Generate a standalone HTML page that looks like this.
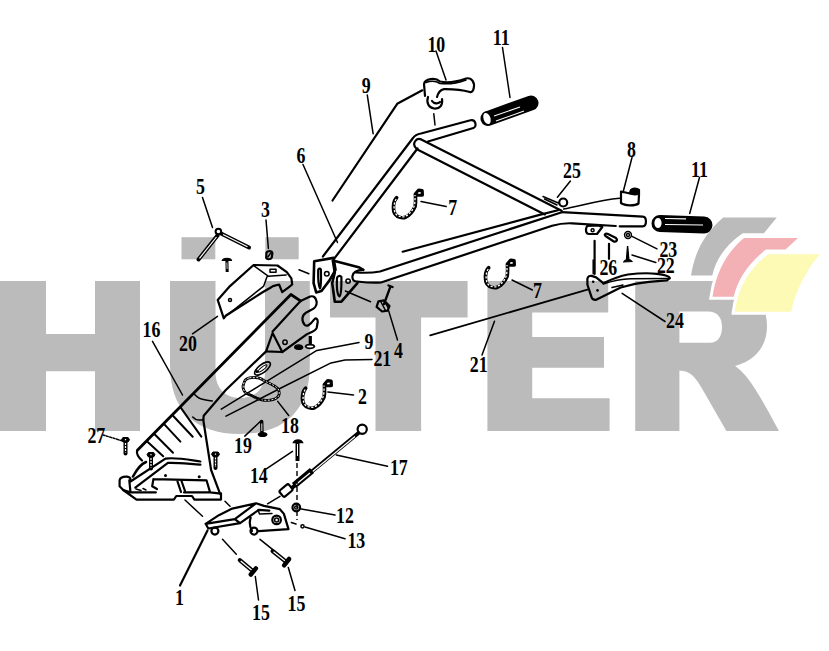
<!DOCTYPE html>
<html><head><meta charset="utf-8">
<style>
html,body{margin:0;padding:0;background:#fff;width:829px;height:651px;overflow:hidden}
svg{display:block}
.t{font-family:"Liberation Serif",serif;font-size:23.5px;font-weight:bold;fill:#000}
.k{fill:none;stroke:#000;stroke-width:2.2;stroke-linecap:round;stroke-linejoin:round}
.th{fill:none;stroke:#000;stroke-width:1.5;stroke-linecap:round;stroke-linejoin:round}
.tk{fill:none;stroke:#000;stroke-width:2.8;stroke-linecap:round;stroke-linejoin:round}
.ds{fill:none;stroke:#000;stroke-width:1.4;stroke-dasharray:5 3}
</style></head>
<body>
<svg width="829" height="651" viewBox="0 0 829 651">
<!-- watermark -->
<g fill="#bbbbbb">
  <path d="M0,281H46V334H95V281H140V431H95V371.3H46V431H0Z"/>
  <rect x="181.5" y="237.2" width="33.8" height="22.1"/>
  <rect x="265.3" y="237.2" width="33.4" height="22.1"/>
  <path d="M170,281V365C170,410 195,434 240,434C285,434 309.8,410 309.8,365V281H265V372C265,390 254,398 240.3,398C227,398 215.5,390 215.5,372V281Z"/>
  <path d="M330,281H467.6V317.5H421.1V431H375.5V317.5H330Z"/>
  <path d="M487.4,281H608.2V312.5H532.2V337H604V367.8H532.2V398.2H609.6V431H487.4Z"/>
  <path d="M635.2,281H712C745,281 767,297 767,326C767,346 756,360 735,366C748,375 757,390 779,431H726.4L704,392C695,376 690,371 679.4,370.6V431H635.2ZM679.4,311.5V342.8H710C718,342.8 722,336 722,327C722,318 718,311.5 708,311.5Z" fill-rule="evenodd"/>
</g>
<!-- logo swooshes -->
<g stroke="#fff" stroke-width="6" stroke-linejoin="miter" paint-order="stroke">
  <path fill="#bbbbbb" d="M723.3,217.5H776.8L763.9,233.2H742.7C727,244 716,258 712.3,275.6H691C695,250 706,232 723.3,217.5Z"/>
  <path fill="#f4b1b5" d="M744,238H798L785.5,249.6H766C750,262 738,278 733.7,296.8H712.5C716,272 727,252 744,238Z"/>
  <path fill="#fcfab5" d="M768.2,254.2H820.1C806,270 796,290 791.2,311.7H734.8C738,287 750,268 768.2,254.2Z"/>
</g>
<!-- drawing -->
<g id="draw">
<!-- handlebar upper tube -->
<path class="k" d="M332.5,200.5L397.2,103.8L422.3,90.3"/>
<path class="k" d="M322.9,256.5L413,138C415,135 418,134 421,133.5L470.5,120.2C476,119 477,127 473.4,128L428,141.5"/>
<path class="k" d="M334.8,257.9L417.5,148.5"/>
<!-- crossbar -->
<path class="k" d="M421.7,139.7L561.6,210.8M416.9,149.3L544.8,214.4M421.7,139.7C416,137 411,144 416.9,149.3"/>
<!-- leaders top -->
<path class="th" d="M367.3,95.1L373.1,133.7M436,51L446,80M502.5,47.5L510,97.5M433.8,113.8L435,125M303,164.5L337.5,242.5"/>
<!-- lever 10 -->
<path class="k" d="M424,84C425,79 435,77 440,81.5C446,83 456,82 466,78.5C472,77 475,83 473.7,88.2C473,92 471,92.5 469.8,92C463,90 452,89 444,89.1C440,90 438,93 437,97M424,84L425,95.9"/>
<path class="th" d="M426,82.5C430,81 436,81 440,83.5C448,84.5 458,83 466,80"/>
<path class="k" d="M428,97C426,103 429,108 434,108.5C440,109 443,105 442,99M432,101C434,104 438,104 440,102"/>
<!-- grip 11 upper -->
<path d="M488,118.5L531,103" stroke="#000" stroke-width="15" stroke-linecap="round"/>
<ellipse cx="487" cy="118.5" rx="4.2" ry="6.5" fill="#fff" stroke="#000" stroke-width="1.5" transform="rotate(-20 487 118.5)"/>
<path d="M494,116L520,107M496,121L524,111" stroke="#fff" stroke-width="1.1"/>
<!-- joint brackets -->
<path class="k" style="stroke-width:2.6" d="M314.2,261.2L333.5,257.9L335.5,269.8L329.5,280.4L321.5,291L316.2,292.4L313.6,283.1Z"/>
<path class="k" d="M318.2,270C318,279 318.5,286 320,288.4C321.5,286 321,276 320.9,269.5C320,268 318.5,268.5 318.2,270"/>
<circle class="th" cx="326.8" cy="273.8" r="2.3"/>
<path class="k" style="stroke-width:2.6" d="M332.8,260.5L358.7,267.2L363.3,269.8M357.4,283.1L341.4,301.7L334.8,301.7L332.2,283.1L334.8,272.5L332.8,260.5"/>
<path class="k" d="M337,278C336.5,288 337.5,295 339.5,296.3C341.5,295 341.5,285 341.4,277C340,275 337.5,276 337,278"/>
<circle class="th" cx="348.1" cy="281.1" r="2.2"/>
<path class="th" d="M299,269.8L308.9,273.8M345.4,291L370.6,301.7"/>
<!-- lower tube from joint -->
<path class="k" d="M363.3,269.8C358,270 353,272 352.5,276C352,280 354,281.5 357,281.5C366,282.5 374,283 381,282.5L552.1,225.7C558,224 566,223 572.4,223.3L615.8,226M619.7,226.3L642.8,226.3C647,226 647,217 642.8,216.7L561.8,212.2"/>
<path class="k" d="M356,272.5C365,273 372,273 380,271.5L561.8,212.2"/>
<path class="k" d="M402.7,251.7L540.5,214.6L557.9,210.3"/>
<path class="th" d="M563.7,209C580,206 600,200 619.7,198.3"/>
<!-- part 8 -->
<path class="k" d="M621,191.5L621,203C625,206 635,206 638.5,203.5L639,195C637,192 633,193 630,193.5L621,191.5M630,193.5L631,190C633,188 637,188.5 639,190L639,195"/><path d="M629,194L630,190C632,188 637,188 639,190.5L639,194.5C636,196 632,195.5 629,194Z" fill="#000"/>
<path class="th" d="M632,157.5L623,192.5"/>
<!-- part 25 -->
<circle class="k" cx="563.2" cy="202.5" r="4"/><path class="th" d="M543,196.5L559.5,203.5M544.5,199L557,205"/>
<path class="th" d="M570.4,181L557.4,197.2"/>
<!-- grip 11 right -->
<path d="M660,223.5L704,225" stroke="#000" stroke-width="17" stroke-linecap="round"/>
<ellipse cx="658" cy="223" rx="4.5" ry="6" fill="#fff" stroke="#000" stroke-width="1.8"/>
<path d="M665,218.5L686,218.8M665,224.5L703,225" stroke="#fff" stroke-width="1.2"/>
<path class="th" d="M699.5,177.5L689.7,213.5"/>
<!-- part 26, 23, 22 -->
<path class="k" d="M587,226C585,230 586,234 589,234L597,234L602.3,227L598,225.4Z"/>
<circle class="th" cx="592.6" cy="230.2" r="1.5"/>
<path class="k" d="M605.5,236L613,241C616,243 618,240 616,238L608,234C605,233 604,235 605.5,236Z"/>
<path class="k" d="M594.6,240.8L594.6,274M609,243.8L609,258.8"/>
<circle class="th" cx="628" cy="235" r="3.4"/>
<circle class="th" cx="628" cy="235" r="1.5"/>
<path class="th" d="M632,236.3L657,248.8"/>
<path d="M627.6,246L626.5,259.5L628.8,259.5Z" fill="#000" stroke="#000" stroke-width="1.4"/><path d="M623.8,261.8C625,259 630.5,259 632,261.5Z" fill="#000" stroke="#000" stroke-width="1.2"/>
<path class="th" d="M632,255L655.8,262.5"/>
<!-- clip 7 upper -->
<g transform="translate(385,185)"><path fill="none" stroke="#000" stroke-width="3.6" stroke-linecap="round" stroke-linejoin="round" d="M11.7,12.6C8,16 7.5,25 10,29C12.5,32.5 17.5,33.5 21,32C25,30 28.5,25 30.1,21.5C31,17 30.5,12.5 30.4,9.2L33.8,5.3L37,5.8L37.2,10L31,10"/><path fill="none" stroke="#fff" stroke-width="1.3" stroke-dasharray="2.2 1.6" d="M11.2,14C8.5,18 8.5,25 10.5,28.5C13,32 18,32.5 21,31C25,29 28.5,24 29.5,20C30.2,16 30,12 30,10"/><path fill="#fff" d="M33.3,7.2L35.6,7.2L35.6,8.8L33,8.8Z"/></g>
<path class="th" d="M421,201.4L446.2,206.5"/>
<!-- clip 7 lower -->
<g transform="translate(477,255)"><path fill="none" stroke="#000" stroke-width="3.6" stroke-linecap="round" stroke-linejoin="round" d="M11.7,12.6C8,16 7.5,25 10,29C12.5,32.5 17.5,33.5 21,32C25,30 28.5,25 30.1,21.5C31,17 30.5,12.5 30.4,9.2L33.8,5.3L37,5.8L37.2,10L31,10"/><path fill="none" stroke="#fff" stroke-width="1.3" stroke-dasharray="2.2 1.6" d="M11.2,14C8.5,18 8.5,25 10.5,28.5C13,32 18,32.5 21,31C25,29 28.5,24 29.5,20C30.2,16 30,12 30,10"/><path fill="#fff" d="M33.3,7.2L35.6,7.2L35.6,8.8L33,8.8Z"/></g>
<path class="th" d="M512,280L532.4,290"/>
<!-- part 5 pin -->

<path d="M221,233.5L249,247.5" stroke="#000" stroke-width="4" stroke-linecap="round"/><path d="M223,234.5L247.5,246.8" stroke="#fff" stroke-width="1.2"/>
<path d="M217.5,235.5L198.5,259.5" stroke="#000" stroke-width="4" stroke-linecap="round"/><path d="M216.5,237L199.5,258.3" stroke="#fff" stroke-width="1.2"/>
<path class="th" d="M202.5,197.5L212.5,227.5"/><circle cx="218.4" cy="231.5" r="2.8" fill="#fff" stroke="#000" stroke-width="2"/>
<!-- screw T -->
<path d="M222.3,260.5C223,257.5 231,257.5 231.5,260.5Z" fill="#000" stroke="#000" stroke-width="1.2"/><path d="M226.9,261L227.2,272" stroke="#000" stroke-width="3"/><path d="M226.9,262.5L227.1,269" stroke="#fff" stroke-width="0.8"/>
<!-- nut 3 -->
<path class="k" style="stroke-width:2.2" d="M266.5,252.5C268,250.5 272,250.8 272.4,253L271.8,257.5C270.5,259.8 267,259.8 266.2,257.8Z"/><path class="th" d="M267.8,257L270.8,253"/>
<path class="th" d="M266,220L268.4,248.4"/>
<!-- bracket 20 -->
<path class="k" d="M253.6,265L277.5,265.5L286.8,272.2L291.4,278.4L292.2,284.5L288.3,287.6L282.2,292.2L279.1,284.5L273,286.1L270,288L263,292L226,315.5L223.8,318.3L217.7,299.9L230,286.1Z"/>
<path class="th" d="M254,265.8L268.2,276.2L286.1,274.9M267,276.8L263.7,286.1L226.9,315.3"/>
<path class="th" d="M270,269.2L276,269.2L276,272.2L270,272.2Z"/>
<circle class="th" cx="230" cy="299.9" r="1.5"/>
<path class="th" d="M192.5,333.8L217.5,316.3"/>
<!-- tube 16 -->
<path class="tk" d="M137.4,450.2L290.9,294.5L300.5,300.9"/>
<path class="k" d="M300.5,300.9L272.6,331.5M272.6,333L266.1,351.4L282.3,352L272.6,333"/>
<path class="k" d="M300.5,300.9L310.2,296.6C313,295.5 316,297 316.7,302C317,306 314,309 311,310L305.9,312.7C302,315 301,321 304.8,325C307,327 310,325 314.5,319.2C316,317.5 318,319 317.7,322L316.7,327.8C316,331 312,332 307,334.2L282.3,352"/>
<circle class="th" cx="285" cy="342.3" r="2.2"/>
<path d="M294.5,347.5C295,344 302,344 302.8,347.5C302,350 295,350 294.5,347.5Z" fill="#000" stroke="#000" stroke-width="1.2"/><path d="M310.3,336L310.3,345" stroke="#000" stroke-width="3.2"/><path d="M305.5,346.5C306.5,344 313.5,344 314.5,346.5C313.5,349 306.5,349 305.5,346.5Z" fill="#fff" stroke="#000" stroke-width="1.6"/>
<path class="k" d="M266.1,351.4L225.8,390L203.7,415.8L203.3,420L211.1,470L220,493.6"/>
<path class="k" style="stroke-width:2" d="M180.4,407.2L201.3,436.7M173,415.8L192.7,436.7M164.4,424.4L180.4,441.6M154.6,434.2L173,452.7M147.2,441.6L163.2,456.3"/>
<path class="th" d="M193.9,393.7C197,397 200,399 202.5,399.2C206,400 209,400.5 212.3,401M192.7,417C195,419.5 197,420 198.8,420.1C200.5,420 202,419.8 203.7,419.5"/>
<path class="th" d="M152.5,341.3L182.5,395"/>
<!-- base foot -->
<path class="k" d="M137,451C136.5,454 138,457 142,460.5"/>
<path class="k" style="stroke-width:2.6" d="M146,462C141,464 137,469 133,476.5"/>
<path class="k" d="M119.6,480.3C120,478 122,476.5 126.9,476.7C129,477 130.5,478 130.5,479.5M119.6,480.3L119.6,486.3L123.2,490L136.5,499.6L173.9,499.6L176.3,496L192,496L194.4,499.6L221,499.6L221,493.6"/>
<path class="k" d="M129.3,480.3L130.5,492.4L155.8,492.4M123.2,490L130.5,492.4"/>
<path class="k" d="M130.5,481.5L165.5,458.6C175,457 190,460 200.4,461.5M135.3,487.6L167.9,462.9C178,462.5 190,464 200.4,464.6"/>
<path class="k" d="M153.4,479.1L206.5,480.3L210.1,492.4L221,493.6M153.4,479.1L152.2,486.3L157,489M184,492.4L210.1,492.4"/>
<path class="k" d="M177.5,481.5L181,492M181.5,481L185,491"/>
<path class="th" d="M136,489L141,490.5M143,488.5L146,490"/>
<circle cx="165.5" cy="475.5" r="1.5"/><circle cx="199.2" cy="476.7" r="1.5"/>
<path d="M147.0,454.7L148.4,452.5H153.6L155.0,454.7L153.6,456.9H148.4Z" fill="#000" stroke="#000" stroke-width="1"/><path d="M151.0,456.5V468.5" stroke="#000" stroke-width="4" stroke-linecap="round"/><path d="M151.0,454.0V455.3M151.0,458.0V467.5" stroke="#fff" stroke-width="1.2" stroke-dasharray="2 1"/>
<path d="M211.5,454.2L212.9,452.0H218.1L219.5,454.2L218.1,456.4H212.9Z" fill="#000" stroke="#000" stroke-width="1"/><path d="M215.5,456.0V468.0" stroke="#000" stroke-width="4" stroke-linecap="round"/><path d="M215.5,453.5V454.8M215.5,457.5V467.0" stroke="#fff" stroke-width="1.2" stroke-dasharray="2 1"/>
<path d="M121.5,439.7L122.9,437.5H128.1L129.5,439.7L128.1,441.9H122.9Z" fill="#000" stroke="#000" stroke-width="1"/><path d="M125.5,441.5V453.5" stroke="#000" stroke-width="4" stroke-linecap="round"/><path d="M125.5,439.0V440.3M125.5,443.0V452.5" stroke="#fff" stroke-width="1.2" stroke-dasharray="2 1"/>
<path class="th" d="M103,435L123.7,441.3" stroke-dasharray="2 1.5"/>

<path class="th" d="M185,500L202.5,516.3M225,501.3L230,506.3"/>
<!-- leaders 9, 21 lower -->
<path class="th" d="M221.3,409.2L316.9,350.4L359,342.5"/>
<path class="th" d="M226,416.2L280.9,388L331,362.9L345,360L372,359.5"/>
<!-- ring 18 -->
<path fill="none" stroke="#000" stroke-width="2.8" d="M249.4,377.8C254,377 259,377 263.7,380.4C268,383 273,384 278.1,388.8C280,392 279.5,396 277.3,397.3C275,400 266,401 262,399.8C257,399 254,397 251.9,395.6C248,394 245,393 245.1,392.2C243,390 242.5,386 243.5,384.6C244,381 246,378.5 249.4,377.8Z"/>
<path fill="none" stroke="#fff" stroke-width="0.9" stroke-dasharray="2 1.5" d="M249.4,377.8C254,377 259,377 263.7,380.4C268,383 273,384 278.1,388.8C280,392 279.5,396 277.3,397.3C275,400 266,401 262,399.8C257,399 254,397 251.9,395.6C248,394 245,393 245.1,392.2C243,390 242.5,386 243.5,384.6C244,381 246,378.5 249.4,377.8Z"/>
<path fill="none" stroke="#000" stroke-width="1.6" d="M246,394C252,395 257,398 262,400.5"/>
<path class="th" d="M277.7,401.4L288.7,415.5"/>
<!-- small clip -->
<ellipse cx="262.5" cy="368.5" rx="9.5" ry="4" fill="none" stroke="#000" stroke-width="1.6" transform="rotate(-38 262.5 368.5)"/><ellipse cx="262.5" cy="368.5" rx="5.5" ry="1.5" fill="none" stroke="#000" stroke-width="1" transform="rotate(-38 262.5 368.5)"/><circle cx="257" cy="371.5" r="1.6" fill="#000"/>
<!-- clip 2 -->
<g transform="translate(294,375.5)"><path fill="none" stroke="#000" stroke-width="3.6" stroke-linecap="round" stroke-linejoin="round" d="M11.7,12.6C8,16 7.5,25 10,29C12.5,32.5 17.5,33.5 21,32C25,30 28.5,25 30.1,21.5C31,17 30.5,12.5 30.4,9.2L33.8,5.3L37,5.8L37.2,10L31,10"/><path fill="none" stroke="#fff" stroke-width="1.3" stroke-dasharray="2.2 1.6" d="M11.2,14C8.5,18 8.5,25 10.5,28.5C13,32 18,32.5 21,31C25,29 28.5,24 29.5,20C30.2,16 30,12 30,10"/><path fill="#fff" d="M33.3,7.2L35.6,7.2L35.6,8.8L33,8.8Z"/></g>
<path class="th" d="M327.9,392L353.5,395"/>
<!-- nut 4 -->
<path class="k" d="M378.4,301.3L384,300.4L389.5,306L387.6,310.6L382.1,311.5L376.6,306.9Z"/>
<path class="th" d="M381,302L385.5,310.5M384.5,301.5L388.5,308"/>
<path class="k" style="stroke-width:2.4" d="M390.4,286.6L384,304.1M388.5,285.5L392.5,287"/>
<path class="th" d="M388.6,310.6L397.5,340"/>
<!-- screw 19 -->
<path d="M261.7,421.5L262,433" stroke="#000" stroke-width="3.4" stroke-linecap="round"/><path d="M261.8,423.5L261.9,431" stroke="#fff" stroke-width="0.9"/>
<path d="M258.3,434.5C259,432 266,432 266.9,434.5C266,437 259,437 258.3,434.5Z" fill="#000" stroke="#000" stroke-width="1.2"/>
<path class="th" d="M244.8,436.1L261,420.8"/>
<!-- rod 17 -->
<circle class="k" cx="362.2" cy="429.2" r="4.6"/>
<path d="M358.5,433L290,489.5" stroke="#000" stroke-width="3.8" stroke-linecap="round"/>
<path d="M355,436.5L300,482" stroke="#fff" stroke-width="1.2"/>
<path d="M312,470.5L294,485.5" stroke="#000" stroke-width="6.5" stroke-linecap="butt"/>
<path d="M310,473L296,484.5" stroke="#fff" stroke-width="1.4"/>
<rect x="280" y="486.5" width="12" height="8" rx="2" fill="#fff" stroke="#000" stroke-width="2.2" transform="rotate(-40 286 490.5)"/>
<path class="th" d="M336.3,455L387.5,466.3"/>
<!-- bolt 14 -->
<path d="M293.5,442.5C295,439 301,439 302.5,442.5Z" fill="#000" stroke="#000" stroke-width="1.5"/><path d="M297.5,443L297.5,461" stroke="#000" stroke-width="4"/><path d="M297.5,444L297.5,456" stroke="#fff" stroke-width="1"/>
<path class="ds" d="M297,463L297,520"/>
<path class="th" d="M266.3,468.8L292.5,451.3"/>
<!-- washer 12, 13 -->
<circle class="k" cx="296.3" cy="507.5" r="3.8"/>
<circle class="th" cx="296.3" cy="507.5" r="1.6"/>
<path class="th" d="M300,508.8L335,515"/>
<circle class="th" cx="302.5" cy="526.3" r="1.6"/>
<path class="th" d="M291.3,522.5L296,524M305,527L345,538.8"/>
<!-- dashed line rod to bracket -->
<path class="th" d="M267.5,503.8L280,496.3" />
<!-- bracket 1 -->
<path class="k" d="M205.6,523.8L218.9,515.2L232.2,508.6L256,503.3L264,505.9L279.9,509.2L283.9,513.9L288.5,529.1L258.7,531.1M250.7,517.9C249,522 250,527 252,531M205.6,523.8L208.3,528.5L240.1,523.2L258.7,509.9L269.3,510.6M205.6,523.8L234.8,519.2L256,503.3M234.8,519.2L240.1,523.2"/>
<path class="th" d="M258,510L259.5,514L272,513.5"/>
<circle class="k" cx="214.9" cy="531.1" r="3.5"/>
<circle class="k" cx="254" cy="531.1" r="3.5"/>
<circle class="k" cx="276.6" cy="519.9" r="4.3"/>
<circle class="th" cx="276.6" cy="519.9" r="2"/>
<!-- leader 1 -->
<path class="k" d="M207.5,530.5L180,585.5"/>
<!-- dashed to 15 -->
<path class="th" d="M222.5,539.3L236.3,554.3M260,539.3L272.5,549.3"/>
<!-- bolts 15 -->
<path d="M239.8,560.2L252.9,571.1" stroke="#000" stroke-width="4.2" stroke-linecap="round"/><path d="M240.7,561.0L251.8,570.2" stroke="#fff" stroke-width="1.3"/><path d="M250.8,574.5L255.9,568.4" stroke="#000" stroke-width="4.5" stroke-linecap="round"/>
<path d="M272.6,551.0L286.2,561.9" stroke="#000" stroke-width="4.2" stroke-linecap="round"/><path d="M273.5,551.7L285.1,560.9" stroke="#fff" stroke-width="1.3"/><path d="M284.1,565.3L289.1,559.0" stroke="#000" stroke-width="4.5" stroke-linecap="round"/>
<path class="th" d="M255.3,576.5L258.5,600M288.3,567.5L295,590.5"/>
<!-- lever 24 -->
<path class="k" d="M587.4,278.8C588,276 590,275.5 591.7,275.9L596.1,277.4L603.3,283.2C612,279 620,276 627.9,274.5C640,273 650,273 656.9,273.8C664,274.5 669,275.5 669.9,278.1L667,280.3C656,281 645,282 635.1,283.9L620.7,287.5L603.3,296.2L596.1,299.8C593,300 592,299 591.7,297.6L587.4,284.6Z"/>
<path class="th" d="M603.3,284C615,280 625,279 630.8,278.8L668,278.5M612,287.5L623,285"/>
<circle cx="593.2" cy="281.7" r="1.3"/><circle cx="597.5" cy="290.4" r="1.3"/>
<path class="th" d="M622.1,293.3L665,321.5M593.2,260L593.2,273.8"/>
<!-- line 21 long -->
<path class="k" style="stroke-width:1.8" d="M430.2,335.3L587.4,289.7"/>
<path class="th" d="M494.5,321.2L482,355"/>
<text class="t" text-anchor="middle" transform="translate(366.3,93.2) scale(0.76,1)">9</text>
<text class="t" text-anchor="middle" transform="translate(436.3,51.5) scale(0.76,1)">10</text>
<text class="t" text-anchor="middle" transform="translate(501.3,45.2) scale(0.76,1)">11</text>
<text class="t" text-anchor="middle" transform="translate(301.0,162.8) scale(0.76,1)">6</text>
<text class="t" text-anchor="middle" transform="translate(200.5,194.1) scale(0.76,1)">5</text>
<text class="t" text-anchor="middle" transform="translate(265.5,216.6) scale(0.76,1)">3</text>
<text class="t" text-anchor="middle" transform="translate(452.6,215.4) scale(0.76,1)">7</text>
<text class="t" text-anchor="middle" transform="translate(631.5,156.6) scale(0.76,1)">8</text>
<text class="t" text-anchor="middle" transform="translate(572.0,178.2) scale(0.76,1)">25</text>
<text class="t" text-anchor="middle" transform="translate(699.5,176.6) scale(0.76,1)">11</text>
<text class="t" text-anchor="middle" transform="translate(668.3,256.6) scale(0.76,1)">23</text>
<text class="t" text-anchor="middle" transform="translate(608.3,275.2) scale(0.76,1)">26</text>
<text class="t" text-anchor="middle" transform="translate(665.8,272.8) scale(0.76,1)">22</text>
<text class="t" text-anchor="middle" transform="translate(537.4,297.8) scale(0.76,1)">7</text>
<text class="t" text-anchor="middle" transform="translate(675.0,328.4) scale(0.76,1)">24</text>
<text class="t" text-anchor="middle" transform="translate(478.7,372.4) scale(0.76,1)">21</text>
<text class="t" text-anchor="middle" transform="translate(398.5,358.1) scale(0.76,1)">4</text>
<text class="t" text-anchor="middle" transform="translate(188.0,351.1) scale(0.76,1)">20</text>
<text class="t" text-anchor="middle" transform="translate(151.5,337.2) scale(0.76,1)">16</text>
<text class="t" text-anchor="middle" transform="translate(369.0,348.8) scale(0.76,1)">9</text>
<text class="t" text-anchor="middle" transform="translate(382.3,366.4) scale(0.76,1)">21</text>
<text class="t" text-anchor="middle" transform="translate(362.5,404.1) scale(0.76,1)">2</text>
<text class="t" text-anchor="middle" transform="translate(290.0,432.8) scale(0.76,1)">18</text>
<text class="t" text-anchor="middle" transform="translate(243.0,452.8) scale(0.76,1)">19</text>
<text class="t" text-anchor="middle" transform="translate(96.3,442.8) scale(0.76,1)">27</text>
<text class="t" text-anchor="middle" transform="translate(258.8,482.8) scale(0.76,1)">14</text>
<text class="t" text-anchor="middle" transform="translate(398.8,475.2) scale(0.76,1)">17</text>
<text class="t" text-anchor="middle" transform="translate(345.0,522.8) scale(0.76,1)">12</text>
<text class="t" text-anchor="middle" transform="translate(356.3,547.8) scale(0.76,1)">13</text>
<text class="t" text-anchor="middle" transform="translate(179.5,604.5) scale(0.76,1)">1</text>
<text class="t" text-anchor="middle" transform="translate(261.0,619.5) scale(0.76,1)">15</text>
<text class="t" text-anchor="middle" transform="translate(296.5,611.2) scale(0.76,1)">15</text>
</g>
</svg>
</body></html>
